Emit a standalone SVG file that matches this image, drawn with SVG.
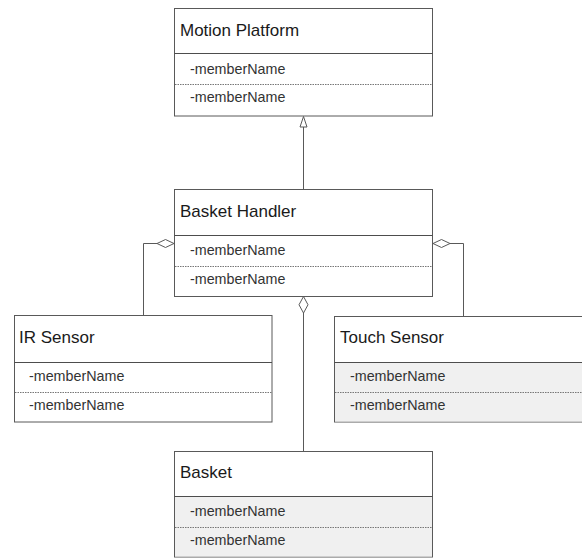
<svg xmlns="http://www.w3.org/2000/svg" width="582" height="560" viewBox="0 0 582 560">
  <style>
    .box { fill: #ffffff; stroke: #595959; stroke-width: 1; }
    .shade { fill: #f0f0f0; stroke: none; }
    .sep { stroke: #4d4d4d; stroke-width: 1; }
    .dash { stroke: #777777; stroke-width: 1; stroke-dasharray: 1.5 1; }
    .title { font-family: "Liberation Sans", Arial, sans-serif; font-size: 17px; fill: #1a1a1a; }
    .member { font-family: "Liberation Sans", Arial, sans-serif; font-size: 14.3px; fill: #333333; }
    .edge { fill: none; stroke: #595959; stroke-width: 1; }
    .head { fill: #ffffff; stroke: #595959; stroke-width: 1; }
  </style>

  <!-- connectors -->
  <g id="connectors">
    <!-- generalization: Basket Handler -> Motion Platform -->
    <path class="edge" d="M303.5 189 L303.5 127"/>
    <path class="head" d="M303.5 116.5 L307 127 L300 127 Z"/>
    <!-- aggregation: Basket Handler <>- IR Sensor -->
    <path class="edge" d="M157 243.5 L143.5 243.5 L143.5 315"/>
    <path class="head" d="M174 243.5 L165.5 239.5 L157 243.5 L165.5 247.5 Z"/>
    <!-- aggregation: Basket Handler <>- Touch Sensor -->
    <path class="edge" d="M450 243.5 L463.5 243.5 L463.5 316"/>
    <path class="head" d="M433 243.5 L441.5 239.5 L450 243.5 L441.5 247.5 Z"/>
    <!-- aggregation: Basket Handler <>- Basket -->
    <path class="edge" d="M303.5 313 L303.5 451"/>
    <path class="head" d="M303.5 296.5 L308 304.75 L303.5 313 L299 304.75 Z"/>
  </g>

  <g id="motion-platform">
    <rect class="box" x="174.5" y="8.5" width="258" height="107.5"/>
    <line class="sep" x1="174.5" y1="53.5" x2="432.5" y2="53.5"/>
    <line class="dash" x1="175" y1="84.5" x2="432" y2="84.5"/>
    <text class="title" x="180" y="36">Motion Platform</text>
    <text class="member" x="190" y="74">-memberName</text>
    <text class="member" x="190" y="102">-memberName</text>
  </g>

  <g id="basket-handler">
    <rect class="box" x="174.5" y="189.5" width="258" height="107"/>
    <line class="sep" x1="174.5" y1="235.5" x2="432.5" y2="235.5"/>
    <line class="dash" x1="175" y1="266.5" x2="432" y2="266.5"/>
    <text class="title" x="180" y="217">Basket Handler</text>
    <text class="member" x="190" y="255">-memberName</text>
    <text class="member" x="190" y="284">-memberName</text>
  </g>

  <g id="ir-sensor">
    <rect class="box" x="14.5" y="315.5" width="257.5" height="106.5"/>
    <line class="sep" x1="14.5" y1="362.5" x2="272" y2="362.5"/>
    <line class="dash" x1="15" y1="392.5" x2="271.5" y2="392.5"/>
    <text class="title" x="19" y="343">IR Sensor</text>
    <text class="member" x="29" y="381">-memberName</text>
    <text class="member" x="29" y="410">-memberName</text>
  </g>

  <g id="touch-sensor">
    <rect class="box" x="334.5" y="316.5" width="258" height="105.5"/>
    <rect class="shade" x="335" y="363" width="257" height="58.5"/>
    <line class="sep" x1="334.5" y1="362.5" x2="592.5" y2="362.5"/>
    <line class="dash" x1="335" y1="392.5" x2="592" y2="392.5"/>
    <text class="title" x="340" y="343">Touch Sensor</text>
    <text class="member" x="350" y="381">-memberName</text>
    <text class="member" x="350" y="410">-memberName</text>
  </g>

  <g id="basket">
    <rect class="box" x="174.5" y="451.5" width="258" height="105.5"/>
    <rect class="shade" x="175" y="497" width="257" height="59.5"/>
    <line class="sep" x1="174.5" y1="496.5" x2="432.5" y2="496.5"/>
    <line class="dash" x1="175" y1="527.5" x2="432" y2="527.5"/>
    <text class="title" x="180" y="478">Basket</text>
    <text class="member" x="190" y="516">-memberName</text>
    <text class="member" x="190" y="545">-memberName</text>
  </g>
</svg>
